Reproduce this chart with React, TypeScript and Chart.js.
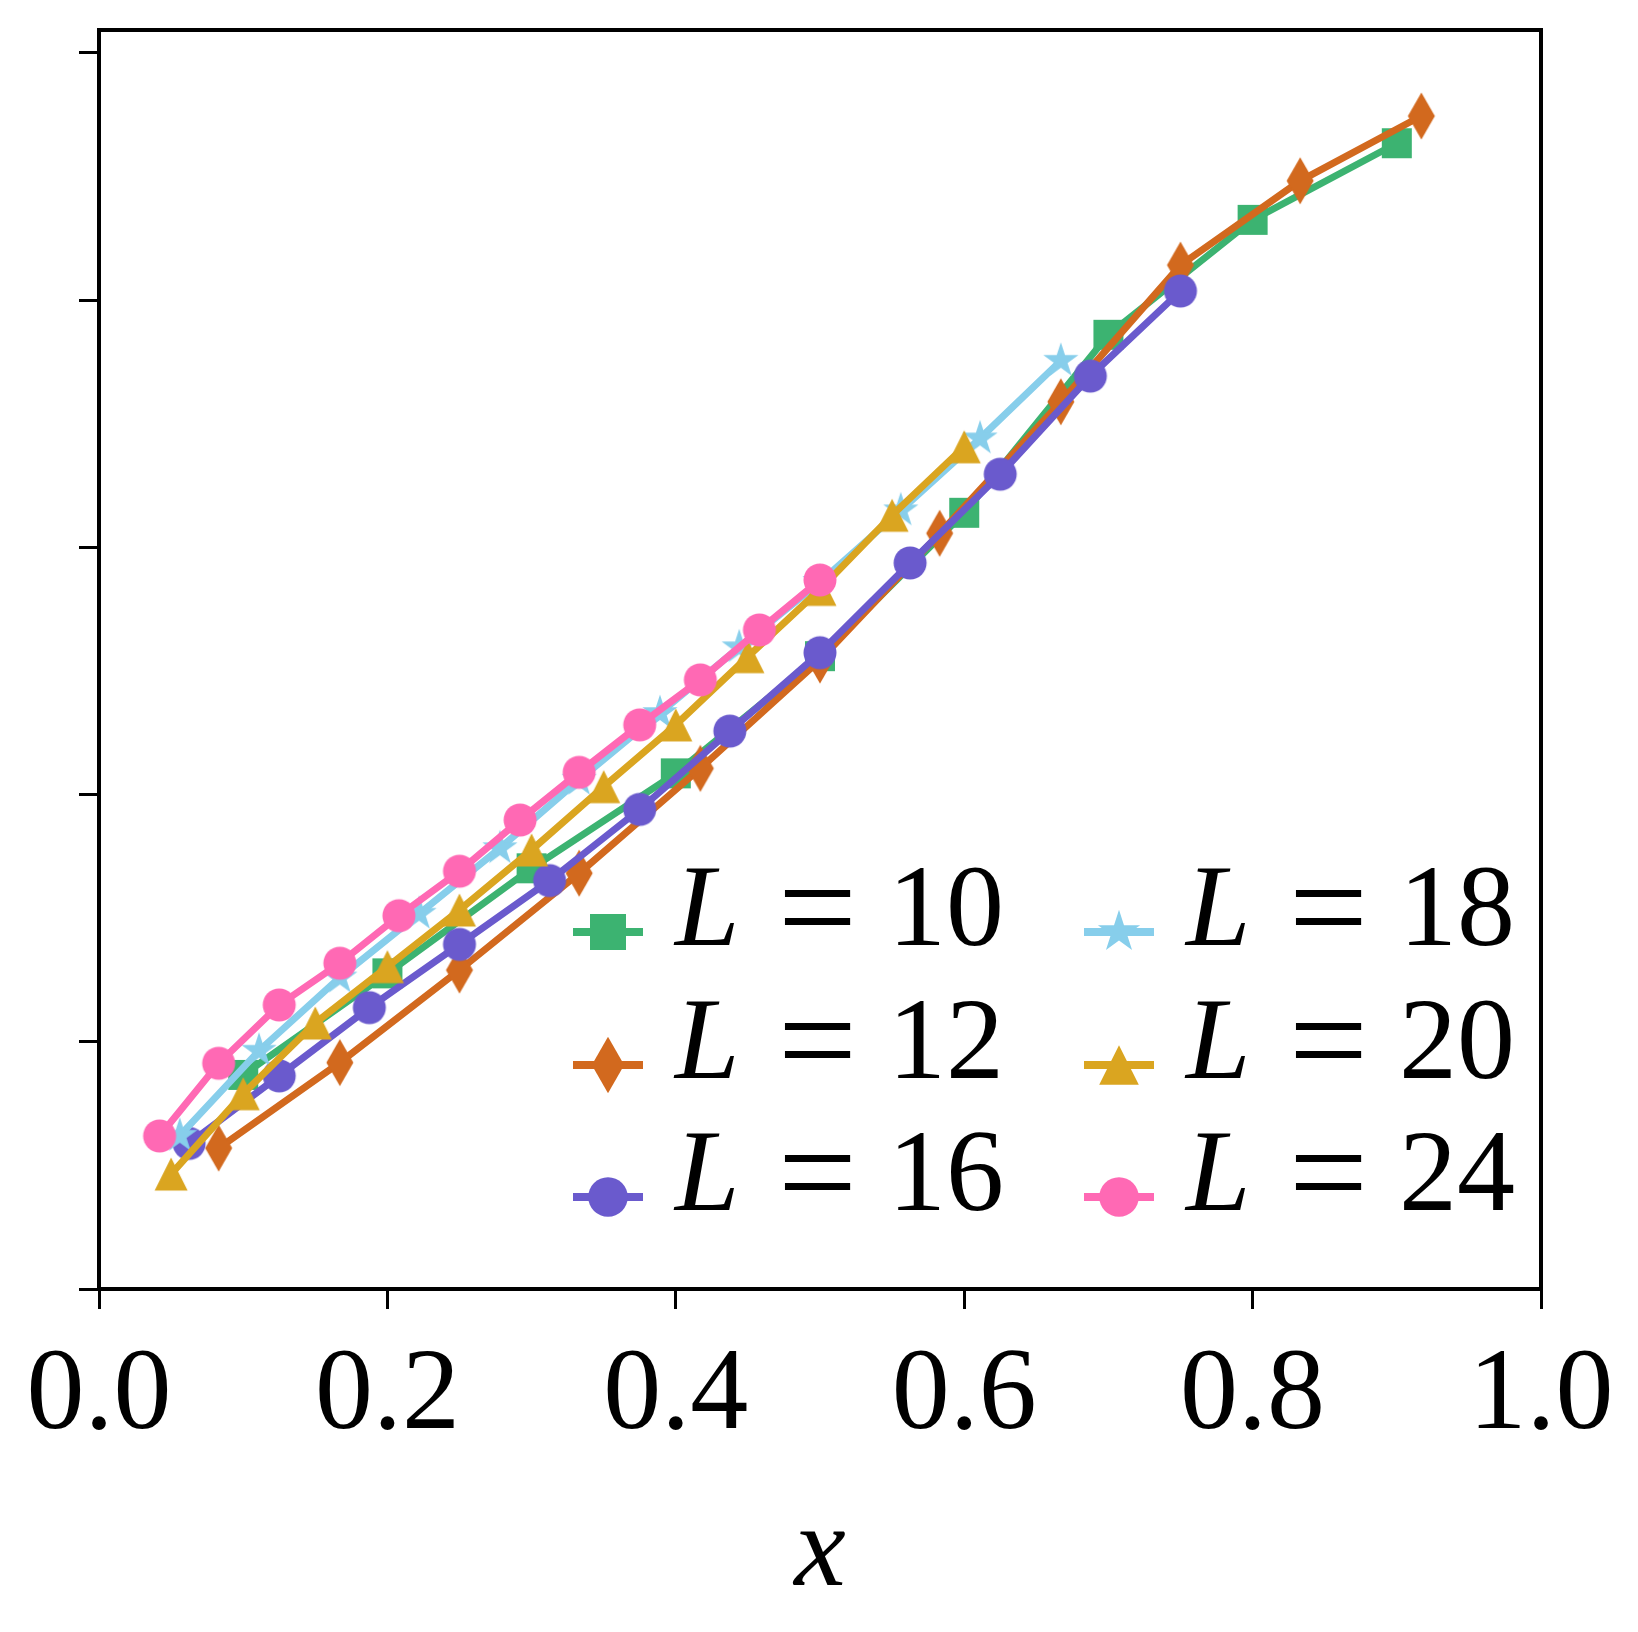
import { useEffect, useRef } from 'react';
import { Chart, registerables } from 'chart.js';

Chart.register(...registerables);

const FONT = '"Liberation Serif", "Times New Roman", serif';

// axis ticks
const xTicks = [0, 0.2, 0.4, 0.6, 0.8, 1.0];
const yTicks = [0, 1, 2, 3, 4, 5];

// series
const x10 = [0.1, 0.2, 0.3, 0.4, 0.5, 0.6, 0.7, 0.8, 0.9];
const y10 = [0.866, 1.277, 1.702, 2.086, 2.56, 3.14, 3.86, 4.325, 4.635];

const x12 = [0.083, 0.167, 0.25, 0.333, 0.417, 0.5, 0.583, 0.667, 0.75, 0.833, 0.917];
const y12 = [0.57, 0.916, 1.29, 1.682, 2.106, 2.544, 3.057, 3.589, 4.142, 4.483, 4.745];

const x16 = [0.0625, 0.125, 0.1875, 0.25, 0.3125, 0.375, 0.4375, 0.5, 0.5625, 0.625, 0.6875, 0.75];
const y16 = [0.589, 0.862, 1.138, 1.394, 1.652, 1.94, 2.257, 2.574, 2.937, 3.296, 3.693, 4.037];

const x18 = [0.056, 0.111, 0.167, 0.222, 0.278, 0.333, 0.389, 0.444, 0.5, 0.556, 0.611, 0.667];
const y18 = [0.62, 0.964, 1.26, 1.518, 1.783, 2.06, 2.33, 2.596, 2.86, 3.15, 3.441, 3.755];

const x20 = [0.05, 0.1, 0.15, 0.2, 0.25, 0.3, 0.35, 0.4, 0.45, 0.5, 0.55, 0.6];
const y20 = [0.465, 0.79, 1.076, 1.304, 1.533, 1.776, 2.032, 2.282, 2.558, 2.83, 3.13, 3.407];

const x24 = [0.042, 0.083, 0.125, 0.167, 0.208, 0.25, 0.292, 0.333, 0.375, 0.417, 0.458, 0.5];
const y24 = [0.619, 0.913, 1.149, 1.318, 1.51, 1.69, 1.897, 2.09, 2.282, 2.464, 2.666, 2.868];

const labels = ['10', '12', '16', '18', '20', '24'];
const colors = ['#3CB371', '#D2691E', '#6A5ACD', '#87CEEB', '#DAA520', '#FF69B4'];
const markers = ['square', 'diamond', 'circle', 'star', 'triangle', 'circle'];
const xs = [x10, x12, x16, x18, x20, x24];
const ys = [y10, y12, y16, y18, y20, y24];

function drawMarker(ctx: CanvasRenderingContext2D, kind: string, cx: number, cy: number, s: number) {
  ctx.beginPath();
  if (kind === 'square') {
    const h = 15 * s;
    ctx.rect(cx - h, cy - h, 2 * h, 2 * h);
  } else if (kind === 'diamond') {
    const w = 13.5 * s, h = 23.5 * s;
    ctx.moveTo(cx, cy - h);
    ctx.lineTo(cx + w, cy);
    ctx.lineTo(cx, cy + h);
    ctx.lineTo(cx - w, cy);
    ctx.closePath();
  } else if (kind === 'circle') {
    ctx.arc(cx, cy, 16.5 * s, 0, Math.PI * 2);
  } else if (kind === 'star') {
    const R = 18.5 * s, r = R * 0.382;
    for (let i = 0; i < 10; i++) {
      const a = -Math.PI / 2 + (i * Math.PI) / 5;
      const rr = i % 2 === 0 ? R : r;
      if (i === 0) ctx.moveTo(cx + rr * Math.cos(a), cy + rr * Math.sin(a));
      else ctx.lineTo(cx + rr * Math.cos(a), cy + rr * Math.sin(a));
    }
    ctx.closePath();
  } else if (kind === 'triangle') {
    const h = 16.5 * s;
    ctx.moveTo(cx, cy - h);
    ctx.lineTo(cx + h, cy + h);
    ctx.lineTo(cx - h, cy + h);
    ctx.closePath();
  }
  ctx.fill();
}

function markerCanvas(kind: string, color: string, s: number) {
  const size = 2 * Math.ceil(25 * s) + 4;
  const c = document.createElement('canvas');
  c.width = size;
  c.height = size;
  const g = c.getContext('2d')!;
  g.fillStyle = color;
  drawMarker(g, kind, size / 2, size / 2, s);
  return c;
}

// spines on all four sides
const framePlugin = {
  id: 'frame',
  afterDraw(chart: any) {
    const { ctx, chartArea: a } = chart;
    ctx.save();
    ctx.strokeStyle = '#000';
    ctx.lineWidth = 4;
    ctx.strokeRect(a.left, a.top, a.right - a.left, a.bottom - a.top);
    ctx.restore();
  },
};

// two-column legend inside the axes, lower right
const legendPlugin = {
  id: 'twoColLegend',
  afterDraw(chart: any) {
    const { ctx, chartArea: a } = chart;
    const colX = [a.right - 968, a.right - 457];
    const rowY = [a.bottom - 357, a.bottom - 224, a.bottom - 92];
    ctx.save();
    labels.forEach((lab, i) => {
      const x0 = colX[Math.floor(i / 3)];
      const yc = rowY[i % 3];
      const base = yc + 13;
      ctx.strokeStyle = colors[i];
      ctx.lineWidth = 8;
      ctx.lineCap = 'butt';
      ctx.beginPath();
      ctx.moveTo(x0, yc);
      ctx.lineTo(x0 + 70, yc);
      ctx.stroke();
      ctx.fillStyle = colors[i];
      drawMarker(ctx, markers[i], x0 + 35, yc, 1.2);

      ctx.fillStyle = '#000';
      ctx.textAlign = 'left';
      ctx.textBaseline = 'alphabetic';
      ctx.font = `italic 116px ${FONT}`;
      ctx.fillText('L', x0 + 102, base);
      ctx.font = `140px ${FONT}`;
      ctx.fillText('=', x0 + 205, base + 9);
      ctx.font = `116px ${FONT}`;
      ctx.fillText(lab, x0 + 315, base);
    });
    ctx.restore();
  },
};

export default function App() {
  const canvasRef = useRef<HTMLCanvasElement>(null);

  useEffect(() => {
    document.body.style.margin = '0';
    if (!canvasRef.current) return;

    const datasets = labels.map((lab, i) => ({
      label: `L = ${lab}`,
      data: xs[i].map((x, j) => ({ x, y: ys[i][j] })),
      borderColor: colors[i],
      backgroundColor: colors[i],
      borderWidth: 7,
      pointStyle: markerCanvas(markers[i], colors[i], 1),
      pointRadius: 16,
      pointHoverRadius: 16,
      tension: 0,
      fill: false,
      order: labels.length - 1 - i,
    }));

    const grid = {
      drawOnChartArea: false,
      drawTicks: true,
      tickLength: 20,
      color: '#000',
      lineWidth: 3,
    };

    const chart = new Chart(canvasRef.current, {
      type: 'line',
      data: { datasets },
      options: {
        animation: false,
        responsive: false,
        events: [],
        layout: { padding: { left: 0, right: 97, top: 30, bottom: 0 } },
        plugins: { legend: { display: false }, tooltip: { enabled: false } },
        scales: {
          x: {
            type: 'linear',
            min: 0,
            max: 1,
            afterBuildTicks: (s: any) => {
              s.ticks = xTicks.map((v) => ({ value: v }));
            },
            afterFit: (s: any) => {
              s.height = 343;
            },
            grid,
            border: { display: false },
            ticks: {
              color: '#000',
              font: { family: FONT, size: 116 },
              padding: 19,
              maxRotation: 0,
              autoSkip: false,
              callback: (v: any) => Number(v).toFixed(1),
            },
            title: {
              display: true,
              text: 'x',
              color: '#000',
              font: { family: FONT, size: 116, style: 'italic' },
              padding: { top: 0, bottom: 8 },
            },
          },
          y: {
            type: 'linear',
            min: 0,
            max: 5.093,
            afterBuildTicks: (s: any) => {
              s.ticks = yTicks.map((v) => ({ value: v }));
            },
            afterFit: (s: any) => {
              s.width = 99;
            },
            grid,
            border: { display: false },
            ticks: { display: false },
          },
        },
      } as any,
      plugins: [framePlugin, legendPlugin],
    });

    return () => {
      chart.destroy();
    };
  }, []);

  return (
    <div style={{ position: 'absolute', left: 0, top: 0, width: 1638, height: 1632, background: '#fff' }}>
      <canvas ref={canvasRef} width={1638} height={1632} style={{ width: 1638, height: 1632 }} />
    </div>
  );
}
